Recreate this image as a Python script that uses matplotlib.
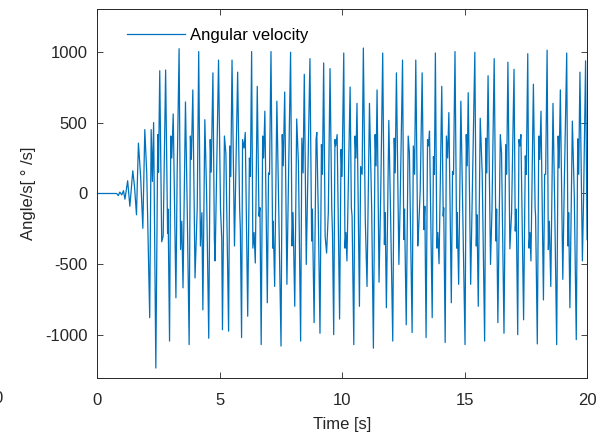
import numpy as np
import matplotlib.pyplot as plt

# angular velocity trace (time [s], value [deg/s])
t_start = [0.0, 0.74, 0.80, 0.87, 0.93, 1.01, 1.08, 1.14, 1.25, 1.34, 1.46, 1.53, 1.61,
           1.69, 1.78, 1.87, 1.95, 2.03, 2.15, 2.21, 2.26, 2.31, 2.40, 2.48, 2.51, 2.56,
           2.64, 2.70, 2.80]
w_start = [0, 0, 0, -15, 10, -10, 20, -40, 90, -90, 160, 50, -150,
           355, 120, -245, 450, 140, -875, 450, 85, 500, -1230, 415, 150, 865,
           -340, -300, 870]

t_seg1 = [2.88, 2.90, 2.96, 3.01, 3.05, 3.11, 3.22, 3.27, 3.35, 3.41, 3.46, 3.51, 3.61,
          3.68, 3.76, 3.81, 3.85, 3.91, 4.00, 4.09, 4.15, 4.22, 4.28, 4.32, 4.40, 4.47,
          4.56, 4.62, 4.66, 4.73, 4.79, 4.82, 4.96, 5.04, 5.09, 5.12, 5.20, 5.26, 5.37,
          5.42, 5.46, 5.51, 5.61]
w_seg1 = [-280, -110, -1040, 405, 250, 560, -735, 135, 1020, -395, -195, -665, 645,
          -90, -1065, 405, 240, 730, -595, -100, 1000, -370, -135, -820, 520, 20,
          -1020, 380, 150, 850, -325, -475, 940, -110, -320, -960, 405, 280, -970,
          335, 120, 940, -370]

t_seg2 = [5.74, 5.82, 5.85, 5.90, 5.94, 6.00, 6.05, 6.15, 6.22, 6.26, 6.31, 6.36, 6.41,
          6.46, 6.54, 6.61, 6.65, 6.70, 6.76, 6.80, 6.85, 6.95, 7.00, 7.04, 7.10, 7.17,
          7.19, 7.25, 7.34, 7.41, 7.51, 7.56, 7.60, 7.66, 7.75, 7.81, 7.90, 7.96, 8.00,
          8.07, 8.15, 8.22, 8.31, 8.36, 8.41, 8.46, 8.54]
w_seg2 = [855, -100, -255, -1015, 380, 320, 430, -865, 250, 120, 1000, -385, -275,
          -490, 755, -160, -100, -1065, 405, 250, 580, -770, 145, 135, 1000, -385,
          -195, -655, 650, -40, -1075, 415, 195, 715, -640, 50, 995, -370, -135,
          -795, 525, 215, -1040, 390, 145, 840, -500]

t_seg3 = [8.69, 8.76, 8.79, 8.86, 8.94, 8.97, 9.03, 9.10, 9.16, 9.20, 9.25, 9.31, 9.37,
          9.44, 9.51, 9.58, 9.61, 9.66, 9.71, 9.74, 9.80, 9.90, 9.96, 10.00, 10.07, 10.12,
          10.16, 10.20, 10.33, 10.38, 10.41, 10.48, 10.53, 10.57, 10.61, 10.71, 10.76,
          10.82, 10.87, 10.95, 10.98, 11.02, 11.12, 11.21, 11.28, 11.35, 11.39, 11.43]
w_seg3 = [950, -335, -110, -910, 380, 430, -135, -985, 345, 135, 920, -300, -420,
          -135, 880, -100, -275, -995, 380, 335, 415, -885, 310, 120, 990, -385,
          -275, -475, 750, -100, -160, -1065, 405, 250, 635, -795, 190,
          135, 1025, -195, -395, -655, 635, -110, -1090, 415, 195, 730]

t_seg4 = [11.51, 11.58, 11.66, 11.73, 11.76, 11.81, 11.91, 11.98, 12.07, 12.13, 12.17,
          12.22, 12.32, 12.37, 12.47, 12.52, 12.55, 12.62, 12.70, 12.75, 12.86, 12.91,
          12.96, 13.01, 13.09, 13.12, 13.19, 13.27, 13.34, 13.38, 13.43, 13.49, 13.53,
          13.57, 13.68, 13.73, 13.77, 13.81, 13.87, 13.91, 13.96, 14.07, 14.13, 14.15,
          14.21, 14.26]
w_seg4 = [-625, 5, 990, -360, -135, -805, 515, -135, -1040, 390, 145,
          850, -500, -90, 940, -325, -110, -925, 405, 285, -980, 335,
          135, 940, -370, -275, 15, 850, -255, -90, -1015, 380, 335,
          440, -875, 260, 135, 990, -385, -275, -495, 755, -160, -100,
          -1050, 405]

t_seg5 = [14.31, 14.36, 14.46, 14.51, 14.55, 14.61, 14.68, 14.70, 14.76, 14.85, 14.92,
          15.02, 15.07, 15.11, 15.15, 15.25, 15.32, 15.42, 15.48, 15.51, 15.56, 15.64,
          15.72, 15.82, 15.87, 15.91, 15.96, 16.06, 16.12, 16.21, 16.28, 16.31, 16.36,
          16.46, 16.51, 16.61, 16.68, 16.72, 16.77, 16.85, 16.92, 17.02, 17.07, 17.11]
w_seg5 = [250, 570, -770, 155, 135, 1000, -385, -135, -640, 650, -40,
          -1065, 415, 195, 710, -640, 50, 995, -370, -150, -795, 530,
          145, -1040, 390, 145, 830, -500, -110, 950, -335, -110, -910,
          415, 285, -985, 345, 135, 925, -390, -135, 875, -265, -110]

t_seg6 = [17.17, 17.22, 17.26, 17.30, 17.41, 17.48, 17.52, 17.58, 17.63, 17.67, 17.71,
          17.81, 17.88, 17.90, 17.97, 18.03, 18.07, 18.12, 18.22, 18.27, 18.31, 18.37,
          18.42, 18.46, 18.52, 18.61, 18.68, 18.76, 18.82, 18.86, 18.91, 19.01, 19.07,
          19.17, 19.22, 19.25, 19.30, 19.40, 19.48, 19.56, 19.62, 19.66, 19.71, 19.81,
          19.86, 19.94, 20.00]
w_seg6 = [-995, 380, 335, 415, -890, 265, 135, 985, -385, -275, -475,
          770, -100, -160, -1060, 405, 240, 580, -750, 135, 135, 1010,
          -395, -195, -655, 635, -90, -1065, 405, 180, 730, -605, 50,
          990, -370, -135, -805, 510, -20, -1030, 385, 135, 855, -475,
          -20, 935, -325]

time = np.concatenate([t_start, t_seg1, t_seg2, t_seg3, t_seg4, t_seg5, t_seg6])
omega = np.concatenate([w_start, w_seg1, w_seg2, w_seg3, w_seg4, w_seg5, w_seg6])

x_ticks = [0, 5, 10, 15, 20]
y_ticks = [-1000, -500, 0, 500, 1000]

plt.rcParams['font.family'] = ['Liberation Sans', 'DejaVu Sans']
plt.rcParams['axes.unicode_minus'] = False

fig = plt.figure(figsize=(6.16, 4.41), dpi=100)
ax = fig.add_axes([0.1575, 0.1429, 0.7955, 0.8367])

ax.plot(time, omega, color='#0072BD', lw=0.9, label='Angular velocity')

ax.set_xlim(0, 20)
ax.set_ylim(-1300, 1300)
ax.set_xticks(x_ticks)
ax.set_yticks(y_ticks)
ax.tick_params(direction='in', length=4, width=0.6, colors='#262626',
               labelsize=12, top=True, right=True, pad=7)
ax.tick_params(axis='x', pad=11)
for sp in ax.spines.values():
    sp.set_color('#262626')
    sp.set_linewidth(0.7)

ax.set_xlabel('Time [s]', fontsize=12, color='#262626', labelpad=6)
ax.set_ylabel('Angle/s[ ° /s]', fontsize=12, color='#262626', labelpad=6)

leg = ax.legend(loc='upper left', frameon=False, fontsize=12,
                handlelength=3.5, handletextpad=0.3,
                bbox_to_anchor=(0.03, 0.99))

# stray tick label cut off at the left edge
fig.text(-0.004, 0.097, '0', fontsize=12, color='#262626', ha='center', va='center')

fig.savefig('out.png', dpi=100)
